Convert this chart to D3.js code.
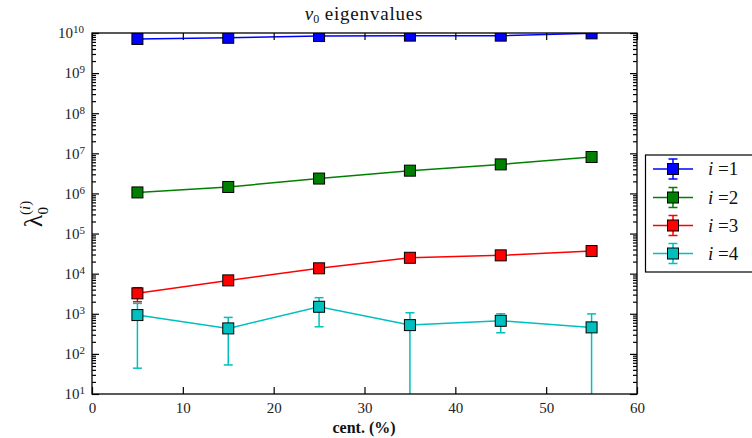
<!DOCTYPE html>
<html><head><meta charset="utf-8">
<script src="https://cdn.jsdelivr.net/npm/d3@7"></script>
<style>body{margin:0;background:#fff}svg{display:block}</style>
</head><body><svg id="c" width="752" height="438"></svg>
<script>
const centrality = [5, 15, 25, 35, 45, 55];
const seriesNames = ["i =1", "i =2", "i =3", "i =4"];
const seriesColors = ["#0000ff", "#008000", "#ff0000", "#00bfbf"];
const lambda1 = [7.1e9, 7.6e9, 8.4e9, 8.6e9, 8.6e9, 9.8e9];
const lambda1Err = [3e8, 3e8, 3e8, 3e8, 3e8, 3e8];
const lambda2 = [1.06e6, 1.45e6, 2.35e6, 3.7e6, 5.3e6, 8.1e6];
const lambda2Err = [5e4, 6e4, 1e5, 1.5e5, 2e5, 3e5];
const lambda3 = [3230, 6800, 13600, 24900, 28600, 36600];
const lambda3Err = [1235, 900, 1500, 2500, 2500, 3500];
const lambda4 = [929, 432, 1496, 522, 668, 458];
const lambda4Err = [885, 379, 1022, 537, 332, 535];
const xTicks = [0, 10, 20, 30, 40, 50, 60];
const yExponents = [1, 2, 3, 4, 5, 6, 7, 8, 9, 10];

const values = [lambda1, lambda2, lambda3, lambda4];
const errors = [lambda1Err, lambda2Err, lambda3Err, lambda4Err];

const svg = d3.select("#c");
const L = 92, R = 637, T = 33, B = 394;
const x = d3.scaleLinear().domain([0, 60]).range([L, R]);
const y = d3.scaleLog().domain([10, 1e10]).range([B, T]);
const serif = "'Liberation Serif', 'DejaVu Serif', serif";

svg.append("defs").append("clipPath").attr("id", "clip")
  .append("rect").attr("x", L).attr("y", T).attr("width", R - L).attr("height", B - T);

const minors = [];
for (let e = 1; e < 10; e++) for (let m = 2; m <= 9; m++) minors.push(m * Math.pow(10, e));
const majors = yExponents.map(e => Math.pow(10, e));

// data
const plot = svg.append("g").attr("clip-path", "url(#clip)");
values.forEach((vals, si) => {
  const col = seriesColors[si];
  const g = plot.append("g");
  const pts = centrality.map((c, i) => ({ c, v: vals[i], e: errors[si][i] }));
  pts.forEach(p => {
    const lo = p.v - p.e, hi = p.v + p.e;
    const yl = lo > 0 ? y(lo) : B + 20;
    const yh = y(hi);
    g.append("line").attr("x1", x(p.c)).attr("x2", x(p.c)).attr("y1", yl).attr("y2", yh)
      .attr("stroke", col).attr("stroke-width", 1.5);
    [yl, yh].forEach(yy => g.append("line").attr("x1", x(p.c) - 4.5).attr("x2", x(p.c) + 4.5)
      .attr("y1", yy).attr("y2", yy).attr("stroke", col).attr("stroke-width", 1.5));
  });
  g.append("path").datum(pts)
    .attr("d", d3.line().x(d => x(d.c)).y(d => y(d.v)))
    .attr("fill", "none").attr("stroke", col).attr("stroke-width", 1.5);
  g.selectAll("rect.m").data(pts).join("rect").attr("class", "m")
    .attr("x", d => x(d.c) - 5.5).attr("y", d => y(d.v) - 5.5)
    .attr("width", 11).attr("height", 11)
    .attr("fill", col).attr("stroke", "#000").attr("stroke-width", 1);
});

function styleAxis(g) {
  g.select(".domain").remove();
  g.selectAll(".tick line").attr("stroke", "#000").attr("stroke-width", 1.2);
  g.selectAll("text").attr("font-family", serif).attr("font-size", 15).attr("fill", "#222");
}
const xb = svg.append("g").attr("transform", `translate(0,${B})`)
  .call(d3.axisBottom(x).tickValues(xTicks).tickSize(-7).tickPadding(8).tickFormat(d3.format("d")));
styleAxis(xb);
const xt = svg.append("g").attr("transform", `translate(0,${T})`)
  .call(d3.axisTop(x).tickValues(xTicks).tickSize(-7).tickFormat(""));
styleAxis(xt);

const yl = svg.append("g").attr("transform", `translate(${L},0)`)
  .call(d3.axisLeft(y).tickValues(majors).tickSize(-7).tickPadding(7).tickFormat(d => "10"));
styleAxis(yl);
yl.selectAll(".tick text").each(function (d) {
  const t = d3.select(this);
  const ex = Math.round(Math.log10(d));
  t.text(null).attr("dy", "0.32em").attr("dx", ex >= 10 ? "-1" : "0");
  t.append("tspan").text("10");
  t.append("tspan").attr("dy", "-0.45em").attr("font-size", 11).text(ex);
});
const ylm = svg.append("g").attr("transform", `translate(${L},0)`)
  .call(d3.axisLeft(y).tickValues(minors).tickSize(-4).tickFormat(""));
styleAxis(ylm);
const yr = svg.append("g").attr("transform", `translate(${R},0)`)
  .call(d3.axisRight(y).tickValues(majors).tickSize(-7).tickFormat(""));
styleAxis(yr);
const yrm = svg.append("g").attr("transform", `translate(${R},0)`)
  .call(d3.axisRight(y).tickValues(minors).tickSize(-4).tickFormat(""));
styleAxis(yrm);

svg.append("rect").attr("x", L).attr("y", T).attr("width", R - L).attr("height", B - T)
  .attr("fill", "none").attr("stroke", "#000").attr("stroke-width", 1.3);

// title
const title = svg.append("text").attr("x", 364).attr("y", 20).attr("text-anchor", "middle")
  .attr("font-family", serif).attr("font-size", 19).attr("fill", "#111");
title.append("tspan").attr("font-style", "italic").text("v");
title.append("tspan").attr("font-size", 12).attr("dy", 3).text("0");
title.append("tspan").attr("dy", -3).attr("letter-spacing", 0.8).text(" eigenvalues");

// x label
svg.append("text").attr("x", 364).attr("y", 433).attr("text-anchor", "middle")
  .attr("font-family", serif).attr("font-size", 16).attr("font-weight", "bold").attr("fill", "#111")
  .text("cent. (%)");

// y label
const ylab = svg.append("text").attr("transform", "translate(42,214) rotate(-90)")
  .attr("text-anchor", "middle").attr("font-family", serif).attr("font-size", 26).attr("fill", "#111");
ylab.append("tspan").text("λ");
ylab.append("tspan").attr("font-size", 15).attr("dy", 6).text("0");
ylab.append("tspan").attr("font-size", 15).attr("dx", -8).attr("dy", -18).text("(");
ylab.append("tspan").attr("font-size", 15).attr("font-style", "italic").text("i");
ylab.append("tspan").attr("font-size", 15).text(")");

// legend
const lg = svg.append("g");
lg.append("rect").attr("x", 645.5).attr("y", 155).attr("width", 130).attr("height", 117)
  .attr("fill", "#fff").attr("stroke", "#000").attr("stroke-width", 1.2);
const legY = [169, 197.5, 225.5, 253.5];
seriesNames.forEach((name, i) => {
  const col = seriesColors[i];
  const cy = legY[i];
  lg.append("line").attr("x1", 653).attr("x2", 693).attr("y1", cy).attr("y2", cy)
    .attr("stroke", col).attr("stroke-width", 1.5);
  lg.append("line").attr("x1", 673).attr("x2", 673).attr("y1", cy - 10).attr("y2", cy + 10)
    .attr("stroke", col).attr("stroke-width", 1.5);
  [cy - 10, cy + 10].forEach(yy => lg.append("line").attr("x1", 668.5).attr("x2", 677.5)
    .attr("y1", yy).attr("y2", yy).attr("stroke", col).attr("stroke-width", 1.5));
  lg.append("rect").attr("x", 667.5).attr("y", cy - 5.5).attr("width", 11).attr("height", 11)
    .attr("fill", col).attr("stroke", "#000").attr("stroke-width", 1);
  const t = lg.append("text").attr("x", 708).attr("y", cy + 6).attr("font-family", serif)
    .attr("font-size", 19).attr("fill", "#111");
  const parts = name.split(" ");
  t.append("tspan").attr("font-style", "italic").text(parts[0]);
  t.append("tspan").text(" " + parts[1]);
});
</script></body></html>
